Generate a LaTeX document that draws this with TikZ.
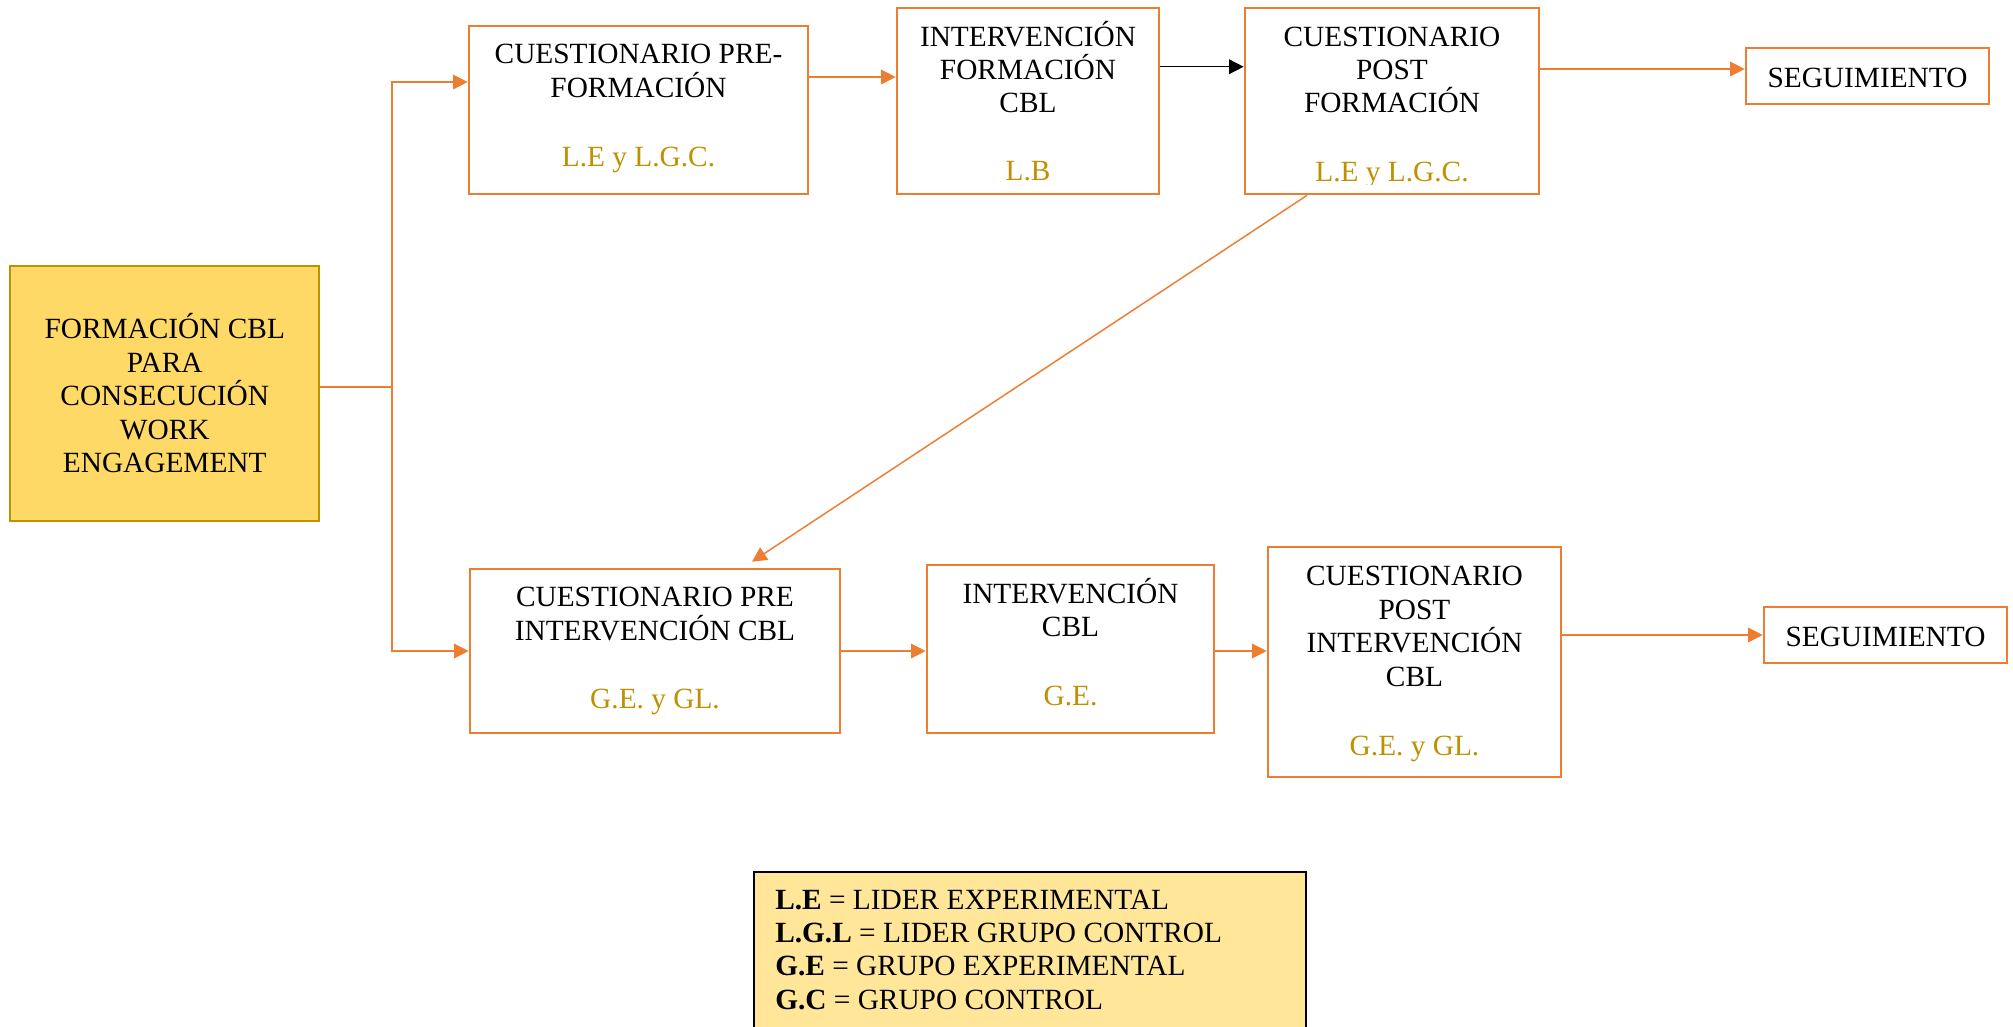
\documentclass[tikz,border=0pt]{standalone}
\usepackage{fontspec}
\setmainfont{Liberation Serif}
\usetikzlibrary{arrows.meta}
\definecolor{orng}{HTML}{ED7D31}
\definecolor{gold}{HTML}{BF9000}
\definecolor{mainfill}{HTML}{FFD966}
\definecolor{legfill}{HTML}{FFE699}
\begin{document}
\begin{tikzpicture}[x=0.75pt,y=-0.75pt,
  box/.style={draw=orng,line width=2pt,inner sep=0pt,fill=white},
  txt/.style={anchor=base,inner sep=0pt,font=\fontsize{22}{25}\selectfont},
  gtxt/.style={txt,text=gold},
  ltxt/.style={txt,anchor=base west},
  conn/.style={draw=orng,line width=1.1pt,-{Triangle[length=11pt,width=11pt]}},
]
\clip (0,0) rectangle (2013,1026);
% boxes
\node[draw=gold,fill=mainfill,line width=1.5pt,inner sep=0pt,minimum width=231.4pt,minimum height=191.25pt] (main) at (164.75,393.5) {};
\node[box,minimum width=254.25pt,minimum height=126pt] (A) at (638.5,110) {};
\node[box,minimum width=196.5pt,minimum height=139.5pt] (B) at (1028,101) {};
\node[box,minimum width=220.5pt,minimum height=139.5pt] (C) at (1392,101) {};
\node[box,minimum width=182.25pt,minimum height=42pt] (D) at (1867.5,76) {};
\node[box,minimum width=277.5pt,minimum height=123pt] (E) at (655,651) {};
\node[box,minimum width=215.25pt,minimum height=126pt] (F) at (1070.5,649) {};
\node[box,minimum width=219.75pt,minimum height=172.5pt] (G) at (1414.5,662) {};
\node[box,minimum width=182.25pt,minimum height=42pt] (H) at (1885.5,635) {};
\node[draw=black,fill=legfill,line width=1.9pt,inner sep=0pt,minimum width=414pt,minimum height=129.75pt] (leg) at (1030,958.5) {};
% main text
\node[txt] (m1) at (164.75,338.5) {FORMACIÓN CBL};
\node[txt] (m2) at (164.75,372) {PARA};
\node[txt] (m3) at (164.75,405.6) {CONSECUCIÓN};
\node[txt] (m4) at (164.75,439.2) {WORK};
\node[txt] (m5) at (164.75,472.8) {ENGAGEMENT};
% A
\node[txt] (a1) at (638.5,63.7) {CUESTIONARIO PRE-};
\node[txt] (a2) at (638.5,97.5) {FORMACIÓN};
\node[gtxt] (ag) at (638.5,166) {L.E y L.G.C.};
% B
\node[txt] (b1) at (1028,46.5) {INTERVENCIÓN};
\node[txt] (b2) at (1028,79.5) {FORMACIÓN};
\node[txt] (b3) at (1028,112.7) {CBL};
\node[gtxt] (bg) at (1028,180) {L.B};
% C
\node[txt] (c1) at (1392,46.5) {CUESTIONARIO};
\node[txt] (c2) at (1392,79.5) {POST};
\node[txt] (c3) at (1392,112.7) {FORMACIÓN};
\begin{scope}
\clip (1245,8) rectangle (1539,184);
\node[gtxt] (cg) at (1392,181.5) {L.E y L.G.C.};
\end{scope}
% D
\node[txt] (d1) at (1867.5,87) {SEGUIMIENTO};
% E
\node[txt] (e1) at (655,606.7) {CUESTIONARIO PRE};
\node[txt] (e2) at (655,640) {INTERVENCIÓN CBL};
\node[gtxt] (eg) at (655,708.3) {G.E. y GL.};
% F
\node[txt] (f1) at (1070.5,603.3) {INTERVENCIÓN};
\node[txt] (f2) at (1070.5,636.7) {CBL};
\node[gtxt] (fg) at (1070.5,705) {G.E.};
% G
\node[txt] (g1) at (1414.5,585.7) {CUESTIONARIO};
\node[txt] (g2) at (1414.5,619.3) {POST};
\node[txt] (g3) at (1414.5,652.7) {INTERVENCIÓN};
\node[txt] (g4) at (1414.5,686.7) {CBL};
\node[gtxt] (gg) at (1414.5,755) {G.E. y GL.};
% H
\node[txt] (h1) at (1885.5,646) {SEGUIMIENTO};
% legend
\node[ltxt] (l1) at (775,909.3) {\textbf{L.E} = LIDER EXPERIMENTAL};
\node[ltxt] (l2) at (775,942.6) {\textbf{L.G.L} = LIDER GRUPO CONTROL};
\node[ltxt] (l3) at (775,975.9) {\textbf{G.E} = GRUPO EXPERIMENTAL};
\node[ltxt] (l4) at (775,1009.2) {\textbf{G.C} = GRUPO CONTROL};
% connectors
\coordinate (j) at (392,387);
\draw[orng,line width=1.9pt] (main.east |- j) -- (j);
\draw[conn] (j) |- ([yshift=21pt]A.west);
\draw[conn] (j) |- (E.west);
\path ([yshift=24.75pt]A.east) coordinate (ab);
\draw[conn] (ab) -- (ab -| B.west);
\path ([yshift=25.7pt]B.east) coordinate (bc);
\draw[conn,draw=black] (bc) -- (bc -| C.west);
\path ([yshift=24pt]C.east) coordinate (cd);
\draw[conn] (cd) -- (cd -| D.west);
\draw[conn] ([xshift=-63.75pt]C.south) -- ([xshift=72.75pt,yshift=4.5pt]E.north);
\draw[conn] (E.east) -- (E.east -| F.west);
\path ([yshift=-1.5pt]F.east) coordinate (fgc);
\draw[conn] (fgc) -- (fgc -| G.west);
\path ([yshift=20.25pt]G.east) coordinate (gh);
\draw[conn] (gh) -- (gh -| H.west);
\end{tikzpicture}
\end{document}
